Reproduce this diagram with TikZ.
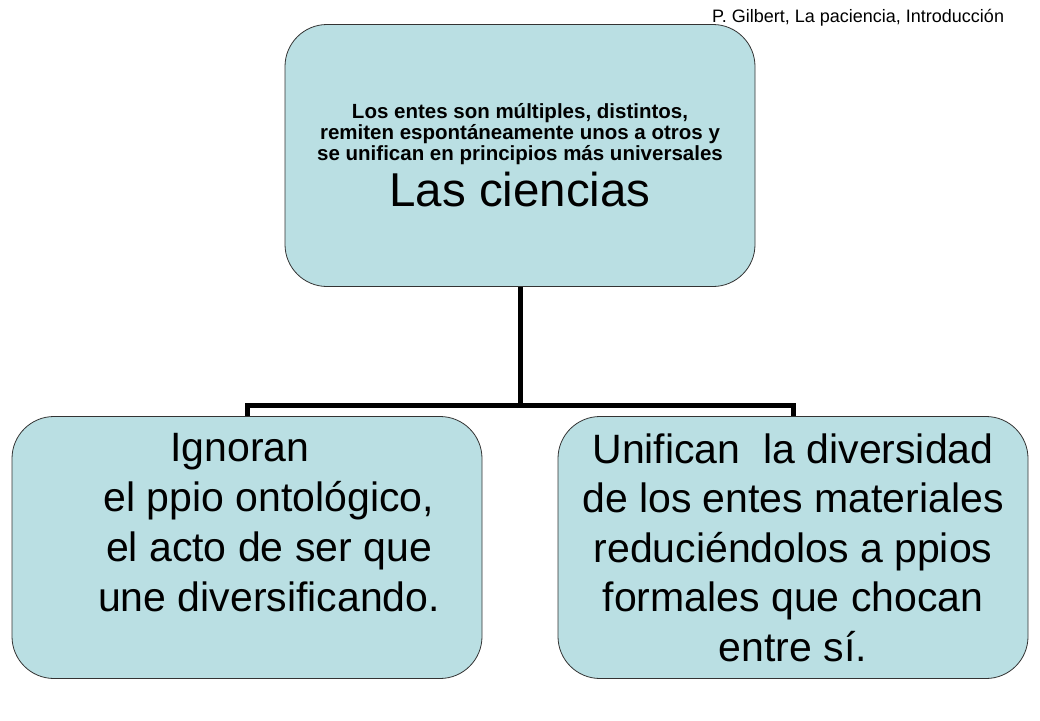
\documentclass[tikz,border=0pt]{standalone}
\usepackage{fontspec}
\setmainfont{Liberation Sans}
\usepackage{tikz}
\usetikzlibrary{positioning}
\definecolor{cajaazul}{RGB}{186,223,227}
\tikzset{caja/.style={draw=black!80,line width=0.8pt,fill=cajaazul,rounded corners=42pt,
    minimum width=470pt,minimum height=262pt,inner sep=0pt,align=center},
  rama/.style={line width=5pt,line join=miter}}

\begin{document}
\begin{tikzpicture}[x=1pt,y=-1pt]
\useasboundingbox (0,0) rectangle (1040,720);

\node [caja,font=\bfseries\fontsize{20.5}{21}\selectfont] (ciencias) at (520,155.5)
  {Los entes son múltiples, distintos,\\ remiten espontáneamente unos a otros y\\
  se unifican en principios más universales\\[6pt]
  {\mdseries\fontsize{47.5}{47.5}\selectfont Las ciencias}};
\node [caja] (ignoran) at (247,547.5) {};
\node [align=center,font=\fontsize{41}{50}\selectfont] (ignorantxt) at ([xshift=22pt,yshift=25pt]ignoran.center)
  {Ignoran\hspace*{58pt}\\ el ppio ontológico,\\ el acto de ser que\\ une diversificando.};
\node [caja,font=\fontsize{41}{49.5}\selectfont] (unifican) at (793,547.5)
  {Unifican~ la diversidad\\ de los entes materiales\\ reduciéndolos a ppios\\ formales que chocan\\ entre sí.};

% ramas
\coordinate (cruce) at (520,405);
\draw [rama] (ciencias.south) -- (cruce) -| (ignoran.north);
\draw [rama] (cruce) -| (unifican.north);

\node [anchor=base west,font=\fontsize{18}{18}\selectfont,inner sep=0pt] (autor) at (712,22)
  {P. Gilbert, La paciencia, Introducción};
\end{tikzpicture}
\end{document}
